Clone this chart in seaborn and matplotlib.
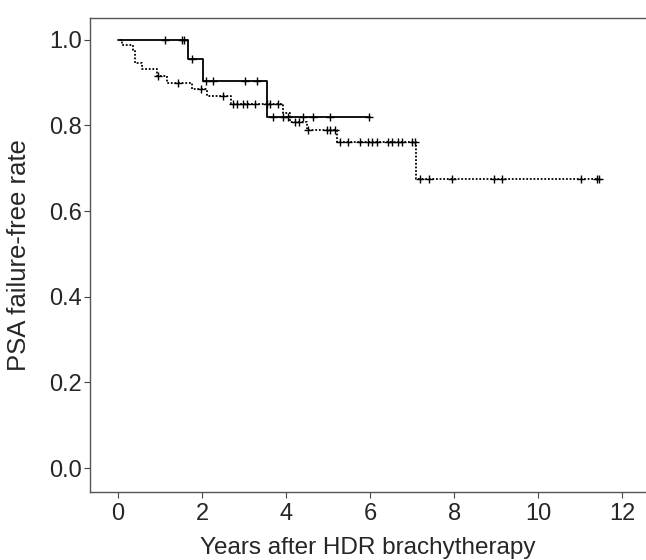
import matplotlib
matplotlib.use('Agg')
import matplotlib.pyplot as plt
import seaborn as sns
import numpy as np
import pandas as pd

# solid curve (group A)
times_a = [0.0, 1.67, 2.03, 3.55, 6.0]
surv_a = [1.0, 0.956, 0.904, 0.82, 0.82]
censor_a = [1.12, 1.52, 1.56, 1.76, 2.1, 2.26, 3.02, 3.3, 3.69, 3.93, 4.05,
            4.40, 4.64, 5.05, 5.98]

# dotted curve (group B)
times_b = [0.05, 0.1, 0.36, 0.4, 0.57, 0.93, 1.17, 1.76, 2.12, 2.68, 3.93,
           4.1, 4.5, 5.2, 7.1, 11.48]
surv_b = [1.0, 0.988, 0.977, 0.946, 0.932, 0.916, 0.9, 0.886, 0.869, 0.85,
          0.83, 0.808, 0.79, 0.762, 0.675, 0.675]
censor_b = [0.95, 1.43, 1.98, 2.5, 2.74, 2.83, 2.98, 3.07, 3.26, 3.55, 3.62,
            3.8, 4.2, 4.3, 4.52, 4.98, 5.05, 5.17, 5.29, 5.48, 5.76, 5.95,
            6.05, 6.17, 6.43, 6.52, 6.67, 6.76, 7.0, 7.07, 7.19, 7.40, 7.95,
            8.95, 9.14, 11.02, 11.40, 11.45]

x_ticks = [0, 2, 4, 6, 8, 10, 12]
y_ticks = [0.0, 0.2, 0.4, 0.6, 0.8, 1.0]


def censor_points(times, surv, cens):
    idx = np.searchsorted(times, cens, side='right') - 1
    return pd.DataFrame({'t': cens, 's': np.array(surv)[idx]})


sns.set_style('ticks')
plt.rcParams['font.family'] = ['Liberation Sans', 'DejaVu Sans']

fig = plt.figure(figsize=(6.46, 5.6), dpi=100)
ax = fig.add_axes([90 / 646, 68 / 560, 556 / 646, 474 / 560])

df_a = pd.DataFrame({'t': times_a, 's': surv_a})
df_b = pd.DataFrame({'t': times_b, 's': surv_b})

sns.lineplot(data=df_a, x='t', y='s', drawstyle='steps-post', color='black',
             linewidth=1.3, ax=ax)
sns.lineplot(data=df_b, x='t', y='s', drawstyle='steps-post', color='black',
             linewidth=1.3, linestyle=(0, (1, 1)), ax=ax)

ca = censor_points(times_a, surv_a, censor_a)
cb = censor_points(times_b, surv_b, censor_b)
sns.scatterplot(data=ca, x='t', y='s', marker='+', s=35, color='black',
                linewidth=1.0, ax=ax)
sns.scatterplot(data=cb, x='t', y='s', marker='+', s=35, color='black',
                linewidth=1.0, ax=ax)

ax.set_xlim(-0.67, 12.57)
ax.set_ylim(-0.056, 1.051)
ax.set_xticks(x_ticks)
ax.set_yticks(y_ticks)
ax.set_yticklabels(['%.1f' % v for v in y_ticks])
ax.tick_params(labelsize=17, length=4, width=0.8, color='#444', pad=2)
ax.tick_params(axis='x', pad=4)
ax.spines['right'].set_visible(False)
for sp in ['left', 'top', 'bottom']:
    ax.spines[sp].set_color('#555')
    ax.spines[sp].set_linewidth(1.0)

ax.set_xlabel('Years after HDR brachytherapy', fontsize=17.5)
ax.set_ylabel('PSA failure-free rate', fontsize=18.5)
ax.xaxis.set_label_coords(0.5, -0.094)
ax.yaxis.set_label_coords(-0.106, 0.5)

fig.savefig('out.png', dpi=100)
